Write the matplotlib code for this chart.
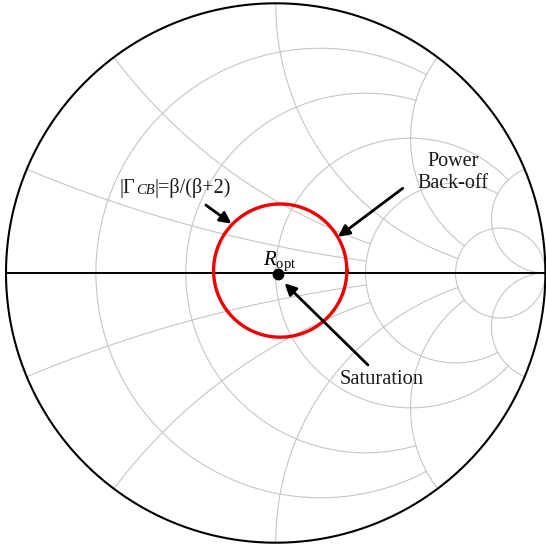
import numpy as np
import matplotlib
matplotlib.use("Agg")
import matplotlib.pyplot as plt

plt.rcParams['font.family'] = ['Liberation Serif', 'DejaVu Serif']
plt.rcParams['mathtext.fontset'] = 'custom'
plt.rcParams['mathtext.rm'] = 'Liberation Serif'
plt.rcParams['mathtext.it'] = 'Liberation Serif:italic'
plt.rcParams['mathtext.bf'] = 'Liberation Serif:bold'

# Smith chart grid: constant-resistance circles and constant-reactance arcs,
# each drawn up to the given limit on the other coordinate.
resistance_values = [0.2, 0.5, 1.0, 2.0, 5.0]
resistance_limits = [2.0, 2.0, 5.0, 5.0, np.inf]   # max |x| for each r circle
reactance_values = [0.2, 0.5, 1.0, 2.0, 5.0]
reactance_limits = [2.0, 2.0, 5.0, 5.0, np.inf]    # max r for each x arc

# Optimum load point and the constant-|Gamma| circle around it
r_opt_point = (0.0074, -0.003)
cb_circle_center = (0.0167, 0.009)
beta = 0.656

GRID = '#c6c6c6'
TEXT = '#1a1a1a'


def gamma(z):
    return (z - 1) / (z + 1)


fig = plt.figure(figsize=(5.46, 5.50), dpi=100)
ax = fig.add_axes([0, 0, 1, 1])
ax.set_xlim(-1.0222, 1.0022)
ax.set_ylim(-1.0259, 1.0111)
ax.set_aspect('equal')
ax.axis('off')

# constant resistance circles
for r, lim in zip(resistance_values, resistance_limits):
    t = np.linspace(-np.arctan(lim), np.arctan(lim), 600)
    t = np.clip(t, -np.pi / 2 + 1e-6, np.pi / 2 - 1e-6)
    g = gamma(r + 1j * np.tan(t))
    ax.plot(g.real, g.imag, color=GRID, lw=0.8, zorder=1)

# constant reactance arcs (upper and lower half)
for x, lim in zip(reactance_values, reactance_limits):
    t = np.linspace(0, min(np.arctan(lim), np.pi / 2 - 1e-6), 600)
    for s in (1, -1):
        g = gamma(np.tan(t) + 1j * s * x)
        ax.plot(g.real, g.imag, color=GRID, lw=0.8, zorder=1)

# outer boundary and real axis
th = np.linspace(0, 2 * np.pi, 800)
ax.plot(np.cos(th), np.sin(th), color='black', lw=1.5, zorder=3)
ax.plot([-1, 1], [0, 0], color='black', lw=1.4, zorder=3)

# constant |Gamma_CB| circle
rad = beta / (beta + 2)
ax.plot(cb_circle_center[0] + rad * np.cos(th),
        cb_circle_center[1] + rad * np.sin(th),
        color='#ee0000', lw=2.4, zorder=4)

# R_opt marker
ax.plot(*r_opt_point, 'o', color='black', markersize=7.5, zorder=5)
ax.text(0.0148, 0.0296, r'$R_{\mathrm{opt}}$', fontsize=15,
        ha='center', va='baseline', zorder=6)

# |Gamma_CB| = beta/(beta+2) label, built from pieces so the subscript is italic
t1 = ax.text(-0.578, 0.296, '|Γ', fontsize=14.5, ha='left', va='baseline',
             color=TEXT)
t2 = ax.annotate('CB', xy=(1, 0), xycoords=t1, xytext=(0.3, 0.8),
                 textcoords='offset points', fontsize=10.5, style='italic',
                 ha='left', va='bottom', color=TEXT)
ax.annotate('|=β/(β+2)', xy=(1, 0), xycoords=(t2, t1), xytext=(0.3, 0),
            textcoords='offset points', fontsize=14.5, ha='left',
            va='bottom', color=TEXT)

ax.text(0.656, 0.373, 'Power\nBack-off', fontsize=14.5, ha='center',
        va='center', linespacing=1.2, color=TEXT)
ax.text(0.393, -0.393, 'Saturation', fontsize=14.8, ha='center',
        va='center', color=TEXT)

# arrows
arrow_kw = dict(arrowstyle='-|>', lw=2.0, color='black',
                mutation_scale=17, shrinkA=0, shrinkB=0)
arrows = [((-0.259, 0.252), (-0.164, 0.183)),
          ((0.471, 0.314), (0.231, 0.134)),
          ((0.342, -0.341), (0.033, -0.038))]
for tail, tip in arrows:
    ax.annotate('', xy=tip, xytext=tail, arrowprops=arrow_kw, zorder=6)

fig.savefig('out.png', dpi=100)
